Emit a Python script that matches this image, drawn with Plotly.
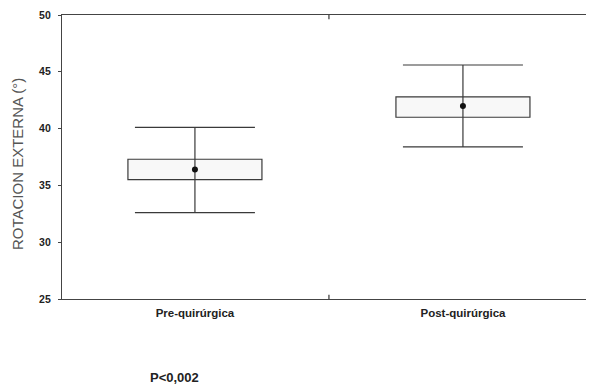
import plotly.graph_objects as go

categories = ["Pre-quirúrgica", "Post-quirúrgica"]
means = [36.4, 42.0]
box_low = [35.5, 41.0]
box_high = [37.3, 42.8]
whisker_low = [32.6, 38.4]
whisker_high = [40.1, 45.6]
y_ticks = [25, 30, 35, 40, 45, 50]
p_text = "P<0,002"

xpos = list(range(len(categories)))
line_col = "#3a3a3a"

fig = go.Figure()
fig.add_trace(go.Bar(
    x=xpos, base=box_low,
    y=[h - l for h, l in zip(box_high, box_low)],
    width=0.5,
    marker=dict(color="#f8f8f8", line=dict(color=line_col, width=1.2)),
    showlegend=False, hoverinfo="skip",
))
fig.add_trace(go.Scatter(
    x=xpos, y=means, mode="markers",
    marker=dict(color="#111111", size=6),
    error_y=dict(type="data", symmetric=False,
                 array=[h - m for h, m in zip(whisker_high, means)],
                 arrayminus=[m - l for m, l in zip(means, whisker_low)],
                 color=line_col, thickness=1.2, width=60),
    showlegend=False,
))

fam = "Liberation Sans, Arial, sans-serif"

fig.update_layout(
    width=586, height=377,
    margin=dict(l=54, r=0, t=7, b=86),
    plot_bgcolor="white", paper_bgcolor="white",
    xaxis=dict(
        range=[-0.496, 1.489],
        tickmode="array", tickvals=xpos,
        ticktext=["<b>%s</b>" % c for c in categories],
        tickfont=dict(family=fam, size=11.5, color="#222222"),
        ticklabelstandoff=3,
        showgrid=False, zeroline=False,
        showline=True, linecolor="#444444", linewidth=1.3,
        mirror=True, ticks="",
    ),
    yaxis=dict(
        range=[25, 50],
        tickmode="array", tickvals=y_ticks,
        ticktext=["<b>%d</b>" % v for v in y_ticks],
        tickfont=dict(family=fam, size=10.5, color="#222222"),
        ticklabelstandoff=5,
        showgrid=False, zeroline=False,
        showline=True, linecolor="#444444", linewidth=1.3,
        ticks="outside", ticklen=3, tickcolor="#444444",
    ),
    annotations=[
        dict(text="ROTACION EXTERNA (°)", xref="paper", yref="paper",
             x=-0.0846, y=0.475, textangle=-90, showarrow=False,
             xanchor="center", yanchor="middle",
             font=dict(family=fam, size=15, color="#555555")),
        dict(text="<b>%s</b>" % p_text, xref="paper", yref="paper",
             x=0.1617, y=-0.278, showarrow=False, xanchor="left", yanchor="middle",
             font=dict(family=fam, size=13, color="#222222")),
    ],
    shapes=[
        dict(type="line", xref="x", yref="paper", x0=0.5, x1=0.5, y0=1, y1=0.985,
             line=dict(color="#444444", width=1.3)),
        dict(type="line", xref="x", yref="paper", x0=0.5, x1=0.5, y0=0, y1=0.015,
             line=dict(color="#444444", width=1.3)),
    ],
)

fig.write_html("out.html")
